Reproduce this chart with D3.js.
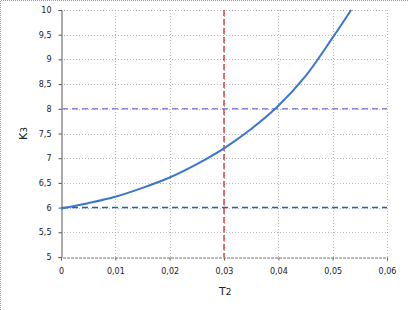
<!DOCTYPE html>
<html>
<head>
<meta charset="utf-8">
<script src="https://cdn.jsdelivr.net/npm/d3@7"></script>
<style>
  body { margin: 0; background: #fff; }
  text { font-family: "DejaVu Sans", sans-serif; font-size: 8px; fill: #222; }
</style>
</head>
<body>
<div id="chart"></div>
<script>
// values
var tValues = [0, 0.005, 0.01, 0.015, 0.02, 0.025, 0.03, 0.035, 0.04, 0.045, 0.05, 0.0534];
var kValues = [5.98, 6.09, 6.22, 6.40, 6.61, 6.88, 7.20, 7.59, 8.06, 8.66, 9.44, 10.00];
var xTicks = [0, 0.01, 0.02, 0.03, 0.04, 0.05, 0.06];
var yTicks = [5, 5.5, 6, 6.5, 7, 7.5, 8, 8.5, 9, 9.5, 10];
var hLines = [{ k: 8, color: "#8a86dc" }, { k: 6, color: "#1f62b0" }];
var vLine = 0.03;

var width = 408, height = 310;
var margin = { top: 10, right: 21, bottom: 53, left: 61 };

var svg = d3.select("#chart").append("svg")
    .attr("width", width)
    .attr("height", height);

// outer dotted frame
svg.append("path")
    .attr("d", "M0.5," + height + "V0.5H" + width)
    .attr("fill", "none")
    .attr("stroke", "#999")
    .attr("stroke-dasharray", "1,1");

var x = d3.scaleLinear().domain([0, 0.06]).range([margin.left, width - margin.right]);
var y = d3.scaleLinear().domain([5, 10]).range([height - margin.bottom, margin.top]);

var fmt = function(d) { return String(d).replace(".", ","); };

// grid
svg.append("g").selectAll("line")
    .data(yTicks.slice(1))
    .enter().append("line")
    .attr("x1", x(0)).attr("x2", x(0.06))
    .attr("y1", function(d) { return Math.round(y(d)) + 0.5; })
    .attr("y2", function(d) { return Math.round(y(d)) + 0.5; })
    .attr("stroke", "#b8b8b8")
    .attr("stroke-dasharray", "1,2");

svg.append("g").selectAll("line")
    .data(xTicks.slice(1))
    .enter().append("line")
    .attr("y1", y(5)).attr("y2", y(10))
    .attr("x1", function(d) { return Math.round(x(d)) + 0.5; })
    .attr("x2", function(d) { return Math.round(x(d)) + 0.5; })
    .attr("stroke", "#b8b8b8")
    .attr("stroke-dasharray", "1,2");

// axes
var yAxis = d3.axisLeft(y).tickValues(yTicks).tickFormat(fmt).tickSize(3).tickPadding(7);
var gy = svg.append("g")
    .attr("transform", "translate(" + (Math.round(x(0)) + 0.5) + ",0)")
    .call(yAxis);
gy.select(".domain").attr("stroke", "#555");
gy.selectAll(".tick line").attr("stroke", "#555");
gy.selectAll("text").style("font-size", "8px").style("font-family", "DejaVu Sans").attr("fill", "#222");

var xAxis = d3.axisBottom(x).tickValues(xTicks).tickFormat(fmt).tickSize(3).tickPadding(8);
var gx = svg.append("g")
    .attr("transform", "translate(0," + (Math.round(y(5)) + 0.5) + ")")
    .call(xAxis);
gx.select(".domain").attr("stroke", "#777").attr("stroke-dasharray", "3,1");
gx.selectAll(".tick line").attr("stroke", "#666");
gx.selectAll("text").style("font-size", "8px").style("font-family", "DejaVu Sans").attr("fill", "#222");

// reference lines
svg.append("g").selectAll("line")
    .data(hLines)
    .enter().append("line")
    .attr("x1", x(0) + 1).attr("x2", x(0.06))
    .attr("y1", function(d) { return y(d.k); })
    .attr("y2", function(d) { return y(d.k); })
    .attr("stroke", function(d) { return d.color; })
    .attr("stroke-width", 1.5)
    .attr("stroke-dasharray", "6,4");

svg.append("line")
    .attr("x1", x(vLine)).attr("x2", x(vLine))
    .attr("y1", y(10)).attr("y2", y(5))
    .attr("stroke", "#d8282a")
    .attr("stroke-width", 1.3)
    .attr("stroke-dasharray", "6,3");

// curve
var line = d3.line()
    .x(function(d, i) { return x(tValues[i]); })
    .y(function(d) { return y(d); })
    .curve(d3.curveCatmullRom);

svg.append("path")
    .datum(kValues)
    .attr("d", line)
    .attr("fill", "none")
    .attr("stroke", "#3a76d0")
    .attr("stroke-width", 2);

// axis titles
var tx = svg.append("text")
    .attr("x", x(0.03) - 5)
    .attr("y", 295)
    .style("font-size", "11px");
tx.append("tspan").text("T");
tx.append("tspan").style("font-size", "9px").text("2");

var ky = svg.append("text")
    .attr("transform", "translate(27,140) rotate(-90)")
    .style("font-size", "11px");
ky.append("tspan").text("K");
ky.append("tspan").style("font-size", "9px").text("3");
</script>
</body>
</html>
